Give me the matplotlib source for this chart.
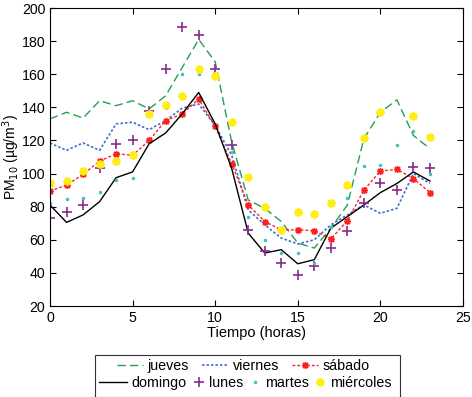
import numpy as np
import matplotlib
matplotlib.use('Agg')
import matplotlib.pyplot as plt
from matplotlib.patches import Rectangle

plt.rcParams['font.family'] = ['Liberation Sans', 'DejaVu Sans']

nan = np.nan
horas = np.arange(24)

jueves = [133, 137, 133.5, 144, 141, 144, 139, 147, 164, 181, 167.5, 119,
          84, 79, 71, 58, 55, 67, 81, 121, 137, 144.5, 123, 115]
viernes = [118.5, 114, 118.5, 114, 130, 131, 126.5, 132, 139.5, 142, 129, 111,
           78, 69, 61, 57.5, 60, 69, 75, 81, 76, 79, 100, 94]
sabado = [89.5, 93, 99.5, 107.5, 112, 111, 120, 132, 136, 145, 128.5, 106,
          81, 71, 66, 66, 65.5, 60.5, 71.5, 90, 101.5, 102.5, 97, 88.5]
domingo = [81, 70.5, 75, 83, 97.5, 101, 118, 124.5, 136, 149, 130, 103,
           64, 52, 54, 45.5, 48, 67, 74, 81, 88.5, 94, 101, 95.5]
lunes = [73, 76.5, 81, 103.5, 118, 120, 138, 163, 188.5, 183.5, 163, 117.5,
         66, 53, 46, 39, 44, 55, 65.5, 82, 94, 90, 104, 103.5]
martes = [82, 84.5, 85.5, 89, 96, 97.5, 137, 139.5, 160, 160, 158.5, 113,
          73.5, 60, 52, 52, 46, 68, 85.5, 104.5, 105, 117, 126, 99.5]
miercoles = [94, 95.5, 101.5, 105.5, 107.5, 111, 136, 141.5, 147, 163, 159, 131,
             98, 79.5, 66, 76.5, 75.5, 82, 93, 121.5, 137, nan, 135, 122]

fig = plt.figure(figsize=(4.72, 3.97), dpi=100)
ax = fig.add_axes([50/472, 1 - 306/397, 413/472, 298/397])

# asterisco de 8 brazos, como el '*' de MATLAB
ast = (8, 2, 0)

h = []
h += ax.plot(horas, jueves, color='#22a050', ls=(0, (6, 3)), lw=1.0, label='jueves')
h += ax.plot(horas, viernes, color='#3a6fd0', ls=(0, (1.5, 1.2)), lw=1.2, label='viernes')
h += ax.plot(horas, sabado, color='#ff2020', ls=(0, (2, 1.5)), lw=1.0,
             marker=ast, ms=5, mew=1.0, label='sábado')
h += ax.plot(horas, domingo, color='black', ls='-', lw=1.0, label='domingo')
h += ax.plot(horas, lunes, color='#8a2a8a', ls='none', marker='+', ms=7, mew=1.2,
             label='lunes')
h += ax.plot(horas, martes, color='#40c0c0', ls='none', marker='.', ms=3,
             label='martes')
h += ax.plot(horas, miercoles, color='#ffee10', ls='none', marker=ast, ms=6, mew=1.3,
             label='miércoles')

ax.set_xlim(0, 25)
ax.set_ylim(20, 200)
ax.set_xticks(np.arange(0, 26, 5))
ax.set_yticks(np.arange(20, 201, 20))
ax.tick_params(direction='in', top=True, right=True, labelsize=10.2, length=4)
ax.set_xlabel('Tiempo (horas)', fontsize=10.5, labelpad=1)
ax.set_ylabel('PM$_{10}$ (µg/m$^3$)', fontsize=10)
ax.yaxis.set_label_coords(-0.067, 0.5)

opts = dict(loc='center left', frameon=False, fontsize=10.3, borderpad=0,
            borderaxespad=0)
fig.legend(h[:3], [l.get_label() for l in h[:3]], ncol=3,
           bbox_to_anchor=(117/472, 1 - 366/397), handlelength=1.85,
           handletextpad=0.3, columnspacing=0.9, **opts)
fig.legend(h[3:4], [h[3].get_label()], ncol=1,
           bbox_to_anchor=(99/472, 1 - 383/397), handlelength=1.95,
           handletextpad=0.3, **opts)
fig.legend(h[4:], [l.get_label() for l in h[4:]], ncol=3,
           bbox_to_anchor=(195/472, 1 - 383/397), handlelength=0.6,
           handletextpad=0.4, columnspacing=0.5, **opts)

fig.patches.append(Rectangle((95/472, 0.5/397), 305/472, 42/397,
                             transform=fig.transFigure, fill=False,
                             edgecolor='#333333', lw=0.8))

fig.savefig('out.png', dpi=100)
